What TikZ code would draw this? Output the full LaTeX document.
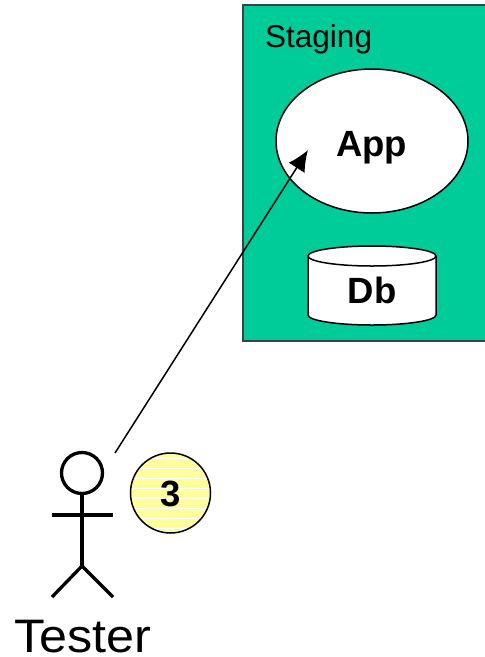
\documentclass[tikz,border=0pt]{standalone}
\usepackage{fontspec}
\setmainfont{Liberation Sans}
\newfontfamily\widefont[FakeStretch=1.07]{Liberation Sans}
\usetikzlibrary{shapes.geometric,arrows.meta}
\definecolor{stagegreen}{HTML}{00CC99}
\definecolor{badgeyellow}{HTML}{FFFF99}
\tikzset{
  actorline/.style={line width=3.3pt},
  shapeline/.style={draw,line width=1.5pt},
  boxlabel/.style={anchor=base,inner sep=0pt,font=\bfseries\fontsize{36.5}{36.5}\selectfont},
}

\begin{document}
\begin{tikzpicture}[x=1pt,y=-1pt]
\useasboundingbox (0,0) rectangle (485,657);

\node[draw=black!75,line width=1.5pt,fill=stagegreen,minimum width=243pt,minimum height=336pt,inner sep=0pt] (staging) at (364.5,173) {};
\node[anchor=base west,inner sep=0pt,font=\fontsize{31.5}{31.5}\selectfont] (staginglabel) at (265,47) {Staging};
\node[ellipse,shapeline,fill=white,minimum width=192pt,minimum height=144pt,inner sep=0pt] (app) at (372,141) {};
\node[boxlabel] (applabel) at (371.5,156) {App};

% db
\draw[shapeline,fill=white] (308,256) -- (308,315) arc[start angle=180,end angle=0,x radius=64,y radius=10] -- (436,256) arc[start angle=0,end angle=-180,x radius=64,y radius=10] -- cycle;
\draw[shapeline] (308,256) arc[start angle=180,end angle=0,x radius=64,y radius=10];
\node[boxlabel] (dblabel) at (372,303) {Db};

% tester
\node[circle,draw,actorline,minimum size=41pt,inner sep=0pt] (head) at (82,473) {};
\coordinate (hip) at (82,566);
\coordinate (larm) at (52,515);
\coordinate (rarm) at (113,515);
\coordinate (lfoot) at (52,597);
\coordinate (rfoot) at (113,597);
\draw[actorline] (head.south) -- (hip);
\draw[actorline] (larm) -- (rarm);
\draw[actorline] (lfoot) -- (hip) -- (rfoot);
\node[anchor=base,inner sep=0pt,font=\widefont\fontsize{47}{47}\selectfont] (tester) at (82.5,652) {Tester};

% badge
\node[circle,shapeline,fill=badgeyellow,minimum size=80pt,inner sep=0pt,
  path picture={\foreach \k in {-9,...,9} {\draw[white,line width=1pt] (-45,\k*5) -- (45,\k*5);}}] (badge) at (170.5,493) {};
\node[boxlabel,anchor=center] (badgelabel) at (170.5,494) {3};

% request
\coordinate (from) at (115,453);
\coordinate (to) at (308,150);
\draw[-{Latex[length=21pt,width=19pt]},line width=1.5pt] (from) -- (to);
\end{tikzpicture}
\end{document}
